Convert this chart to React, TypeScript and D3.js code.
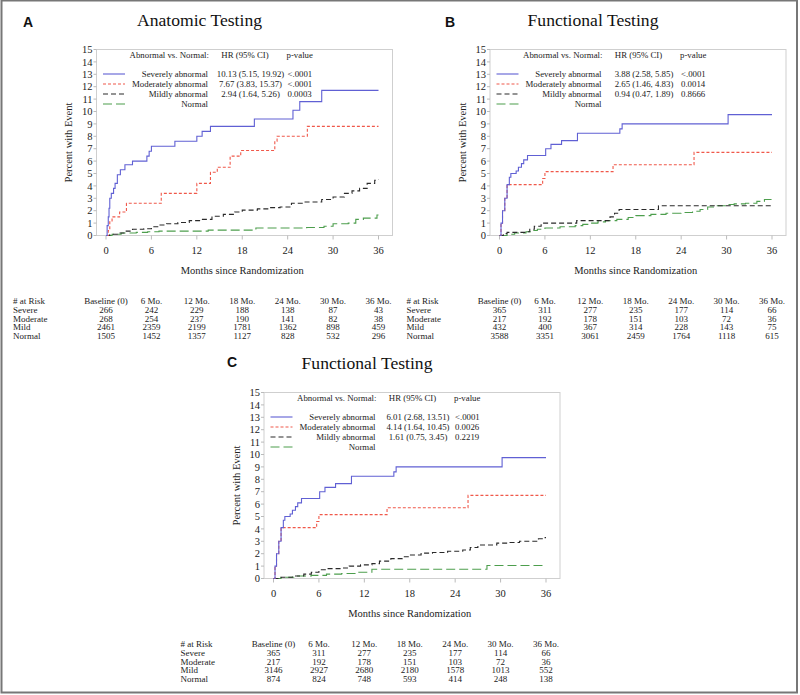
import React from "react";
import * as d3 from "d3";

// ---------- shared labels ----------
const months = [0, 6, 12, 18, 24, 30, 36];
const percentTicks = [0, 1, 2, 3, 4, 5, 6, 7, 8, 9, 10, 11, 12, 13, 14, 15];
const riskHeaders = ["Baseline (0)", "6 Mo.", "12 Mo.", "18 Mo.", "24 Mo.", "30 Mo.", "36 Mo."];
const groupLabels = ["Severe", "Moderate", "Mild", "Normal"];
const legendLabels = ["Severely abnormal", "Moderately abnormal", "Mildly abnormal", "Normal"];

// ---------- Panel A: Anatomic Testing ----------
const anatomicSevere: [number, number][] = [
  [0, 0], [0.15, 0.8], [0.3, 1.5], [0.4, 2.2], [0.5, 3.0], [0.7, 3.4], [1.0, 3.8], [1.2, 4.2], [1.5, 4.9],
  [1.9, 5.3], [2.5, 5.7], [3.5, 6.0], [5.4, 6.4], [5.7, 6.8], [6.0, 7.2], [9.1, 7.6], [12.0, 8.0], [12.7, 8.4],
  [13.8, 8.8], [19.6, 9.4], [24.7, 10.1], [25.6, 10.8], [28.5, 11.7], [36, 11.7],
];
const anatomicModerate: [number, number][] = [
  [0, 0], [0.3, 0.4], [0.5, 1.1], [0.8, 1.5], [1.8, 1.9], [2.7, 2.6], [7.3, 3.4], [12.0, 4.2], [13.8, 5.1],
  [14.7, 5.5], [16.4, 6.4], [17.8, 6.85], [22.3, 7.6], [22.6, 8.0], [26.6, 8.8], [36, 8.8],
];
const anatomicMild: [number, number][] = [
  [0, 0], [0.5, 0.1], [1.5, 0.2], [2.5, 0.35], [3.5, 0.5], [5, 0.55], [6, 0.7], [7, 0.85], [8, 0.95], [9.5, 1.05],
  [11, 1.2], [12.5, 1.3], [14, 1.55], [15.5, 1.7], [17, 1.9], [18, 2.05], [20, 2.15], [21.5, 2.25], [23, 2.3],
  [24.5, 2.6], [26, 2.7], [28.5, 2.9], [30, 3.1], [31.5, 3.4], [32.5, 3.6], [33.5, 3.8], [34.5, 4.2], [35.5, 4.45], [36, 4.5],
];
const anatomicNormal: [number, number][] = [
  [0, 0], [0.8, 0.1], [2, 0.2], [4, 0.25], [5.5, 0.3], [7, 0.35], [13.5, 0.43], [19.8, 0.6], [26.5, 0.65],
  [28.8, 0.75], [30, 0.95], [32, 1.0], [33, 1.3], [34, 1.4], [35.8, 1.65], [36, 1.65],
];
const anatomicHR = ["10.13 (5.15, 19.92)", "7.67 (3.83, 15.37)", "2.94 (1.64, 5.26)"];
const anatomicP = ["<.0001", "<.0001", "0.0003"];
const anatomicRiskSevere = [266, 242, 229, 188, 138, 87, 43];
const anatomicRiskModerate = [268, 254, 237, 190, 141, 82, 38];
const anatomicRiskMild = [2461, 2359, 2199, 1781, 1362, 898, 459];
const anatomicRiskNormal = [1505, 1452, 1357, 1127, 828, 532, 296];

// ---------- Panel B: Functional Testing ----------
const functionalSevere: [number, number][] = [
  [0, 0], [0.2, 1.0], [0.4, 2.0], [0.7, 3.0], [1.0, 4.1], [1.3, 4.7], [1.5, 5.0], [2.2, 5.2], [2.5, 5.5],
  [2.9, 5.8], [3.2, 6.1], [3.7, 6.45], [6.1, 7.0], [6.8, 7.35], [8.2, 7.65], [10.3, 8.25], [15.9, 8.6],
  [16.2, 9.0], [30.2, 9.75], [36, 9.75],
];
const functionalModerate: [number, number][] = [
  [0, 0], [0.2, 1.0], [0.4, 2.0], [0.7, 3.0], [1.0, 4.1], [5.7, 4.6], [6.0, 5.15], [15.0, 5.7], [25.7, 6.7], [36, 6.7],
];
const functionalMild: [number, number][] = [
  [0, 0], [0.5, 0.15], [1, 0.25], [3.5, 0.3], [4, 0.5], [4.6, 0.75], [5.5, 1.0], [10.2, 1.2], [13.8, 1.2],
  [14.6, 1.5], [15.2, 1.8], [15.8, 2.1], [21, 2.4], [36, 2.4],
];
const functionalNormal: [number, number][] = [
  [0, 0], [1, 0.1], [2, 0.2], [3.5, 0.3], [4.5, 0.4], [5, 0.5], [6, 0.6], [8, 0.7], [10, 0.8], [11, 0.9],
  [12, 1.0], [13, 1.1], [14, 1.2], [15.5, 1.3], [17, 1.45], [18, 1.6], [20, 1.7], [22, 1.8], [24, 1.85],
  [25.5, 1.95], [26.5, 2.1], [27.5, 2.3], [28.5, 2.4], [30, 2.5], [31, 2.55], [32.5, 2.6], [34, 2.75], [35, 2.9], [36, 2.9],
];
const functionalHR = ["3.88 (2.58, 5.85)", "2.65 (1.46, 4.83)", "0.94 (0.47, 1.89)"];
const functionalP = ["<.0001", "0.0014", "0.8666"];
const functionalRiskSevere = [365, 311, 277, 235, 177, 114, 66];
const functionalRiskModerate = [217, 192, 178, 151, 103, 72, 36];
const functionalRiskMild = [432, 400, 367, 314, 228, 143, 75];
const functionalRiskNormal = [3588, 3351, 3061, 2459, 1764, 1118, 615];

// ---------- Panel C: Functional Testing (reclassified) ----------
const functionalCSevere: [number, number][] = [
  [0, 0], [0.2, 1.0], [0.4, 2.0], [0.7, 3.0], [1.0, 4.1], [1.3, 4.7], [1.5, 5.0], [2.2, 5.2], [2.5, 5.5],
  [2.9, 5.8], [3.2, 6.1], [3.7, 6.45], [6.1, 7.0], [6.8, 7.35], [8.2, 7.65], [10.3, 8.25], [15.9, 8.6],
  [16.2, 9.0], [30.2, 9.75], [36, 9.75],
];
const functionalCModerate: [number, number][] = [
  [0, 0], [0.2, 1.0], [0.4, 2.0], [0.7, 3.0], [1.0, 4.1], [5.7, 4.6], [6.0, 5.15], [15.0, 5.7], [25.7, 6.7], [36, 6.7],
];
const functionalCMild: [number, number][] = [
  [0, 0], [1, 0.1], [2.5, 0.2], [4, 0.35], [5, 0.5], [6, 0.7], [7, 0.8], [9, 0.85], [10, 1.0], [11.5, 1.1],
  [13, 1.2], [14, 1.4], [15.5, 1.6], [17, 1.75], [18, 1.9], [19.5, 2.05], [21, 2.1], [23, 2.2], [25, 2.3],
  [26, 2.5], [27, 2.7], [29.5, 2.85], [31, 2.9], [32.5, 3.0], [35, 3.2], [35.8, 3.3], [36, 3.3],
];
const functionalCNormal: [number, number][] = [
  [0, 0], [1, 0.1], [3, 0.2], [5, 0.25], [7, 0.35], [9, 0.4], [11, 0.5], [13, 0.75], [28.2, 1.05], [36, 1.05],
];
const functionalCHR = ["6.01 (2.68, 13.51)", "4.14 (1.64, 10.45)", "1.61 (0.75, 3.45)"];
const functionalCP = ["<.0001", "0.0026", "0.2219"];
const functionalCRiskSevere = [365, 311, 277, 235, 177, 114, 66];
const functionalCRiskModerate = [217, 192, 178, 151, 103, 72, 36];
const functionalCRiskMild = [3146, 2927, 2680, 2180, 1578, 1013, 552];
const functionalCRiskNormal = [874, 824, 748, 593, 414, 248, 138];

// ---------- styles ----------
const SERIF = '"Liberation Serif", "Times New Roman", serif';
const SANS = '"Liberation Sans", Arial, sans-serif';
const seriesStyles = [
  { color: "#6060d4", dash: undefined as string | undefined },
  { color: "#f0584a", dash: "3,2" },
  { color: "#2a2a2a", dash: "5,3" },
  { color: "#4d9e4d", dash: "9,4" },
];
const PLOT_W = 272.5;
const PLOT_H = 186;

type PanelProps = {
  letter: string;
  letterX: number;
  letterY: number;
  title: string;
  x0: number;
  yTop: number;
  series: [number, number][][];
  hr: string[];
  pv: string[];
  risk: number[][];
};

function Panel({ letter, letterX, letterY, title, x0, yTop, series, hr, pv, risk }: PanelProps) {
  const x = d3.scaleLinear().domain([0, 36]).range([x0, x0 + PLOT_W]);
  const y = d3.scaleLinear().domain([0, 15]).range([yTop + PLOT_H, yTop]);
  const line = d3
    .line<[number, number]>()
    .x((d) => x(d[0]))
    .y((d) => y(d[1]))
    .curve(d3.curveStepAfter);
  const yBottom = yTop + PLOT_H;
  const frameL = x0 - 9.5;
  const frameR = x0 + PLOT_W + 14;
  const order = [3, 2, 1, 0];
  const legendRowsY = [24.5, 34.5, 44.5, 54.5].map((d) => yTop + d);
  return (
    <g>
      <text x={letterX} y={letterY} fontFamily={SANS} fontWeight="bold" fontSize={14} fill="#111">
        {letter}
      </text>
      <text x={x0 + 93.5} y={yTop - 23.5} fontFamily={SERIF} fontSize={17.6} textAnchor="middle" fill="#111">
        {title}
      </text>
      <rect x={frameL} y={yTop} width={frameR - frameL} height={PLOT_H} fill="none" stroke="#cfcfcf" strokeWidth={1} />
      {percentTicks.map((t) => (
        <g key={"yt" + t}>
          <line x1={frameL - 3} x2={frameL} y1={y(t)} y2={y(t)} stroke="#bbb" />
          <text x={x0 - 13.5} y={y(t) + 3.6} fontFamily={SERIF} fontSize={10.5} textAnchor="end" fill="#222">
            {t}
          </text>
        </g>
      ))}
      {months.map((m) => (
        <g key={"xt" + m}>
          <line x1={x(m)} x2={x(m)} y1={yBottom} y2={yBottom + 4} stroke="#bbb" />
          <text x={x(m)} y={yBottom + 18.5} fontFamily={SERIF} fontSize={10.5} textAnchor="middle" fill="#222">
            {m}
          </text>
        </g>
      ))}
      <text
        x={x0 + PLOT_W / 2}
        y={yBottom + 38.5}
        fontFamily={SERIF}
        fontSize={10.5}
        textAnchor="middle"
        fill="#222"
      >
        Months since Randomization
      </text>
      <text
        transform={`translate(${x0 - 34},${yTop + PLOT_H / 2}) rotate(-90)`}
        fontFamily={SERIF}
        fontSize={10.5}
        textAnchor="middle"
        fill="#222"
      >
        Percent with Event
      </text>
      {order.map((i) => (
        <path
          key={"s" + i}
          d={line(series[i]) || ""}
          fill="none"
          stroke={seriesStyles[i].color}
          strokeWidth={1.1}
          strokeDasharray={seriesStyles[i].dash}
        />
      ))}
      {/* legend */}
      <g fontFamily={SERIF} fontSize={8.8} fill="#222">
        <text x={x0 + 103} y={yTop + 8.6} textAnchor="end">Abnormal vs. Normal:</text>
        <text x={x0 + 139} y={yTop + 8.6} textAnchor="middle">HR (95% CI)</text>
        <text x={x0 + 180.5} y={yTop + 8.6}>p-value</text>
        {legendLabels.map((lab, i) => (
          <g key={"lg" + i}>
            <line
              x1={x0 - 3}
              x2={x0 + 19}
              y1={legendRowsY[i]}
              y2={legendRowsY[i]}
              stroke={seriesStyles[i].color}
              strokeWidth={1.1}
              strokeDasharray={seriesStyles[i].dash}
            />
            <text x={x0 + 102} y={legendRowsY[i] + 3} textAnchor="end">
              {lab}
            </text>
            {i < 3 && (
              <text x={x0 + 144.5} y={legendRowsY[i] + 3} textAnchor="middle">
                {hr[i]}
              </text>
            )}
            {i < 3 && (
              <text x={x0 + 181.5} y={legendRowsY[i] + 3}>
                {pv[i]}
              </text>
            )}
          </g>
        ))}
      </g>
      {/* numbers at risk */}
      <g fontFamily={SERIF} fontSize={9} fill="#222">
        <text x={x0 - 93} y={yBottom + 68.5}># at Risk</text>
        {riskHeaders.map((h, j) => (
          <text key={"rh" + j} x={x(months[j])} y={yBottom + 68.5} textAnchor="middle">
            {h}
          </text>
        ))}
        {groupLabels.map((g, i) => (
          <g key={"rg" + i}>
            <text x={x0 - 93} y={yBottom + 77.5 + i * 8.5}>{g}</text>
            {risk[i].map((v, j) => (
              <text key={"rv" + j} x={x(months[j])} y={yBottom + 77.5 + i * 8.5} textAnchor="middle">
                {v}
              </text>
            ))}
          </g>
        ))}
      </g>
    </g>
  );
}

export default function App() {
  return (
    <svg
      width={800}
      height={695}
      viewBox="0 0 800 695"
      style={{ position: "absolute", left: 0, top: 0, background: "#fff" }}
    >
      <rect x={0} y={0} width={800} height={695} fill="#fff" />
      <rect x={1.5} y={0.5} width={795.5} height={692} fill="none" stroke="#777" strokeWidth={2} />
      <Panel
        letter="A"
        letterX={23}
        letterY={27}
        title="Anatomic Testing"
        x0={106}
        yTop={49.5}
        series={[anatomicSevere, anatomicModerate, anatomicMild, anatomicNormal]}
        hr={anatomicHR}
        pv={anatomicP}
        risk={[anatomicRiskSevere, anatomicRiskModerate, anatomicRiskMild, anatomicRiskNormal]}
      />
      <Panel
        letter="B"
        letterX={445}
        letterY={27}
        title="Functional Testing"
        x0={499.5}
        yTop={49.5}
        series={[functionalSevere, functionalModerate, functionalMild, functionalNormal]}
        hr={functionalHR}
        pv={functionalP}
        risk={[functionalRiskSevere, functionalRiskModerate, functionalRiskMild, functionalRiskNormal]}
      />
      <Panel
        letter="C"
        letterX={227}
        letterY={367}
        title="Functional Testing"
        x0={273.5}
        yTop={392.5}
        series={[functionalCSevere, functionalCModerate, functionalCMild, functionalCNormal]}
        hr={functionalCHR}
        pv={functionalCP}
        risk={[functionalCRiskSevere, functionalCRiskModerate, functionalCRiskMild, functionalCRiskNormal]}
      />
    </svg>
  );
}
